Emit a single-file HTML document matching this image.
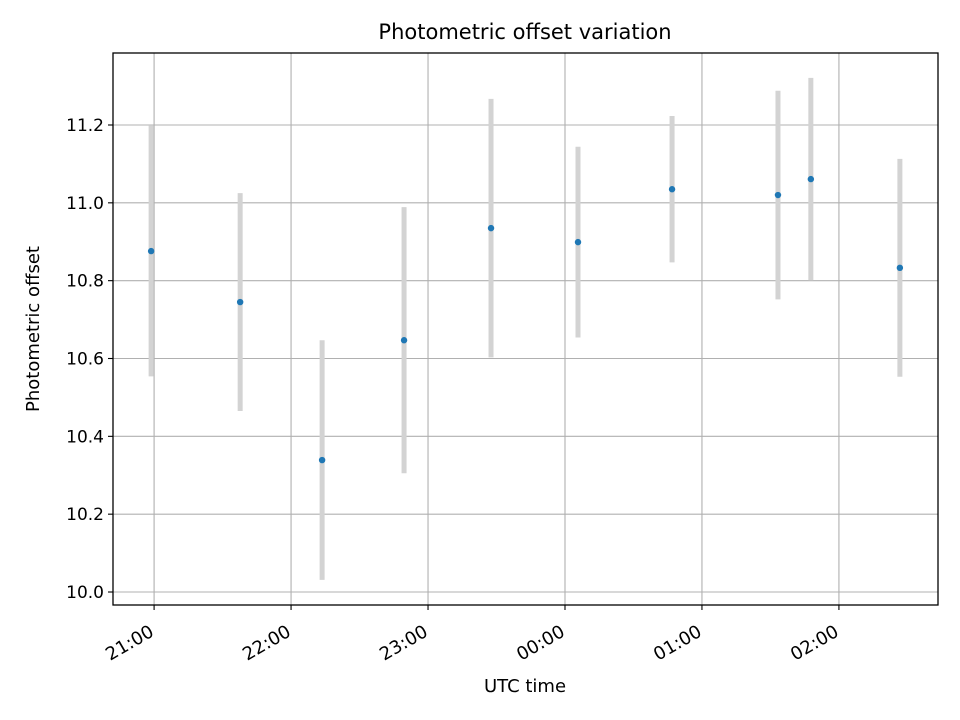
<!DOCTYPE html>
<html><head><meta charset="utf-8"><style>
body{margin:0;background:#fff;}
svg{display:block;font-family:"DejaVu Sans","Liberation Sans",sans-serif;}
</style></head><body>
<svg id="chart" width="960" height="720">
<rect x="0" y="0" width="960" height="720" fill="#fff"/>
<g id="grid"></g><g id="bars"></g><g id="pts"></g><g id="axes"></g>
<text x="525" y="39" font-size="21" text-anchor="middle">Photometric offset variation</text>
<text x="525" y="692" font-size="18" text-anchor="middle">UTC time</text>
<text transform="translate(39,329) rotate(-90)" font-size="18" text-anchor="middle">Photometric offset</text>
</svg>
<script>
// times in minutes after 21:00 UTC
const times = [-1.3, 37.7, 73.6, 109.5, 147.6, 185.7, 226.9, 273.3, 287.7, 326.7];
const values = [10.876, 10.745, 10.339, 10.647, 10.935, 10.899, 11.035, 11.020, 11.061, 10.833];
const errors = [0.322, 0.280, 0.308, 0.342, 0.332, 0.245, 0.188, 0.268, 0.260, 0.280];
const yTicks = [10.0, 10.2, 10.4, 10.6, 10.8, 11.0, 11.2];
const xTicks = [0, 60, 120, 180, 240, 300];
const xTickLabels = ["21:00", "22:00", "23:00", "00:00", "01:00", "02:00"];

const L=113,R=938,T=53,B=605;
const xMin=-18,xMax=343.4,yMin=9.9666,yMax=11.385;
const X=v=>L+(v-xMin)/(xMax-xMin)*(R-L);
const Y=v=>B-(v-yMin)/(yMax-yMin)*(B-T);
const NS="http://www.w3.org/2000/svg";
function mk(tag,attrs,parent){const e=document.createElementNS(NS,tag);for(const k in attrs)e.setAttribute(k,attrs[k]);document.getElementById(parent).appendChild(e);return e;}

yTicks.forEach(t=>{
  const g=mk('line',{x1:L,x2:R,y1:Y(t),y2:Y(t),stroke:'#b0b0b0','stroke-width':1.1},'grid');
  
  
  const tk=mk('line',{x1:L-5,x2:L,y1:Y(t),y2:Y(t),stroke:'#000','stroke-width':1.1},'axes');
  
  
  const tx=mk('text',{x:L-9,y:Y(t)+6,'font-size':17,'text-anchor':'end'},'axes');
  tx.textContent=t.toFixed(1);
  
  
});
xTicks.forEach((t,i)=>{
  const g=mk('line',{x1:X(t),x2:X(t),y1:T,y2:B,stroke:'#b0b0b0','stroke-width':1.1},'grid');
  
  
  const tk=mk('line',{x1:X(t),x2:X(t),y1:B,y2:B+5,stroke:'#000','stroke-width':1.1},'axes');
  
  
  const tx=mk('text',{transform:`translate(${X(t)+1},${B+30}) rotate(-30)`,'font-size':18,'text-anchor':'end'},'axes');
  tx.textContent=xTickLabels[i];
  
  
});
times.forEach((t,i)=>{
  const b=mk('line',{x1:X(t),x2:X(t),y1:Y(values[i]+errors[i]),y2:Y(values[i]-errors[i]),stroke:'#d3d3d3','stroke-width':5},'bars');
  
  
  const p=mk('circle',{cx:X(t),cy:Y(values[i]),r:3.2,fill:'#1f77b4'},'pts');
  
  
});
const f=mk('rect',{x:L,y:T,width:R-L,height:B-T,fill:'none',stroke:'#000','stroke-width':1.3},'axes');


</script>
</body></html>
